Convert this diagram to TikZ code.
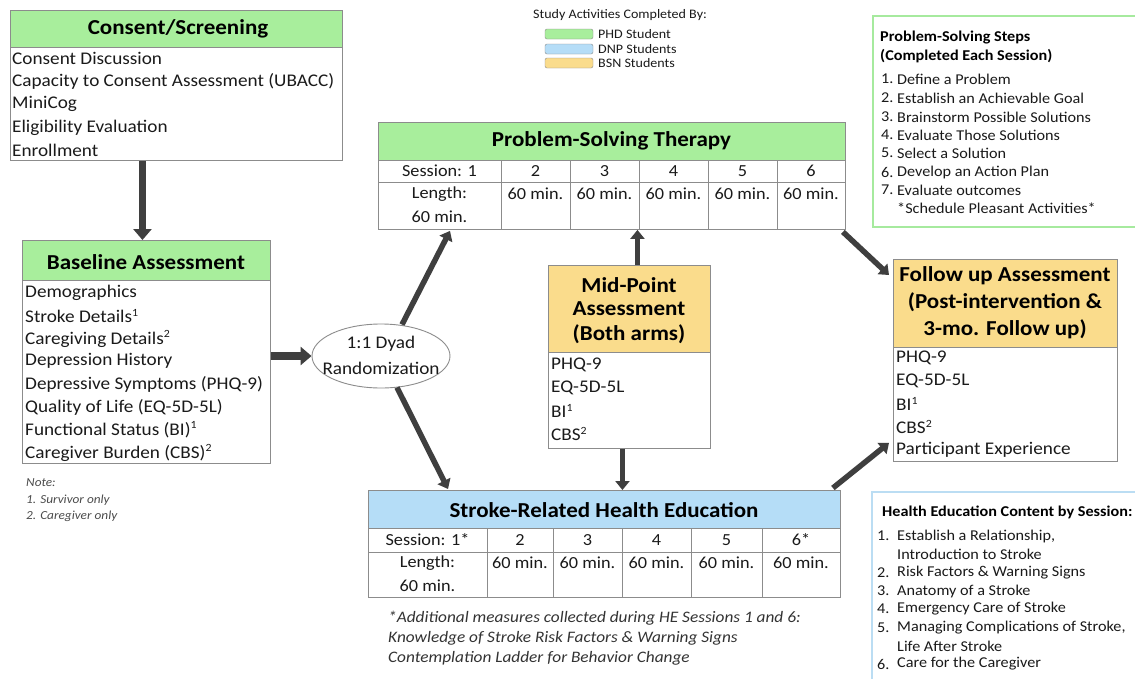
\documentclass[tikz,border=0pt]{standalone}
\usepackage{fontspec}
\setmainfont[FakeStretch=1.08]{Carlito}
\usetikzlibrary{arrows.meta,calc,shapes.geometric}
\definecolor{hgreen}{HTML}{A8EE9C}
\definecolor{hblue}{HTML}{B5DDF7}
\definecolor{hyellow}{HTML}{FADC8C}
\definecolor{bgrey}{HTML}{8C8C8C}
\definecolor{agrey}{HTML}{3F3F3F}
\definecolor{lgreen}{HTML}{A6EA9E}
\definecolor{lblue}{HTML}{BBDDF3}
\definecolor{tgrey}{HTML}{1A1A1A}
\newcommand\supr[1]{\raisebox{0.38em}{\fontsize{11}{12}\selectfont #1}}
\tikzset{
  box/.style={draw=bgrey, line width=0.9pt, anchor=north west, inner sep=0pt},
  hdr/.style={font=\fontsize{21.3}{25}\selectfont\bfseries, text=black},
  itm/.style={anchor=west, inner sep=0pt, font=\fontsize{17.8}{21}\selectfont, text=tgrey},
  cel/.style={inner sep=0pt, font=\fontsize{16.9}{20}\selectfont, text=tgrey},
  sml/.style={anchor=west, inner sep=0pt, font=\fontsize{15}{17}\selectfont, text=tgrey},
  smb/.style={anchor=west, inner sep=0pt, font=\fontsize{15}{17}\selectfont\bfseries, text=black},
  lgd/.style={anchor=west, inner sep=0pt, font=\fontsize{13}{15}\selectfont, text=tgrey},
  nte/.style={anchor=west, inner sep=0pt, font=\fontsize{12.3}{14}\selectfont\itshape, text=black!70},
  fnt/.style={anchor=west, inner sep=0pt, font=\fontsize{16}{19}\selectfont\itshape, text=black!80},
  arr/.style={draw=agrey, line width=5.5pt, -{Triangle[width=14pt,length=9pt]}},
  barr/.style={draw=agrey, line width=7.5pt, -{Triangle[width=18pt,length=11pt]}},
}
\begin{document}
\begin{tikzpicture}[x=1pt,y=-1pt]
\useasboundingbox (0,0) rectangle (1135,678);
\fill[white] (0,0) rectangle (1135,678);

% ---------- Consent / Screening
\fill[hgreen] (10,10) rectangle (342,47);
\node[box, minimum width=332pt, minimum height=150pt] (cs) at (10,10) {};
\draw[bgrey, line width=0.9pt] (10,47) -- (342,47);
\node[hdr] (csh) at (178,29) {Consent/Screening};
\node[itm] (cs1) at (12,58) {Consent Discussion};
\node[itm] (cs2) at (12,81) {Capacity to Consent Assessment (UBACC)};
\node[itm] (cs3) at (12,104) {MiniCog};
\node[itm] (cs4) at (12,128) {Eligibility Evaluation};
\node[itm] (cs5) at (12,150) {Enrollment};

% ---------- Baseline Assessment
\fill[hgreen] (22,240) rectangle (270,280);
\node[box, minimum width=248pt, minimum height=223pt] (bl) at (22,240) {};
\draw[bgrey, line width=0.9pt] (22,280) -- (270,280);
\node[hdr] (blh) at (146,262) {Baseline Assessment};
\node[itm] (bl1) at (25,293) {Demographics};
\node[itm] (bl2) at (25,316) {Stroke Details\supr{1}};
\node[itm] (bl3) at (25,339) {Caregiving Details\supr{2}};
\node[itm] (bl4) at (25,361) {Depression History};
\node[itm] (bl5) at (25,384) {Depressive Symptoms (PHQ-9)};
\node[itm] (bl6) at (25,407) {Quality of Life (EQ-5D-5L)};
\node[itm] (bl7) at (25,430) {Functional Status (BI)\supr{1}};
\node[itm] (bl8) at (25,453) {Caregiver Burden (CBS)\supr{2}};

\node[nte] (n0) at (26,483) {Note:};
\node[nte] (n1) at (26,500) {1. Survivor only};
\node[nte] (n2) at (26,516) {2. Caregiver only};

% ---------- Randomization ellipse
\node[draw=bgrey, line width=0.9pt, ellipse, minimum width=138pt, minimum height=64pt, inner sep=0pt] (ell) at (381,356) {};
\node[itm, anchor=center] (el1) at (381,344) {1:1 Dyad};
\node[itm, anchor=center] (el2) at (381,368) {Randomization};

% ---------- Legend
\node[lgd] (lg) at (533,15) {Study Activities Completed By:};
\draw[bgrey, fill=hgreen, rounded corners=2pt] (545,29) rectangle (593,39);
\draw[bgrey, fill=hblue, rounded corners=2pt] (545,44) rectangle (593,54);
\draw[bgrey, fill=hyellow, rounded corners=2pt] (545,58) rectangle (593,68);
\node[lgd] (lg1) at (598,34) {PHD Student};
\node[lgd] (lg2) at (598,49) {DNP Students};
\node[lgd] (lg3) at (598,63) {BSN Students};

% ---------- Problem-Solving Therapy
\fill[hgreen] (378,122) rectangle (845,160);
\node[box, minimum width=467pt, minimum height=107pt] (pst) at (378,122) {};
\draw[bgrey, line width=0.9pt] (378,160) -- (845,160) (378,182) -- (845,182);
\foreach \x in {501,570,639,708,777} \draw[bgrey, line width=0.9pt] (\x,160) -- (\x,229);
\node[hdr] (psth) at (611.5,141) {Problem-Solving Therapy};
\node[cel] (p11) at (439.5,171) {Session: 1};
\node[cel] (p12) at (535.5,171) {2};
\node[cel] (p13) at (604.5,171) {3};
\node[cel] (p14) at (673.5,171) {4};
\node[cel] (p15) at (742.5,171) {5};
\node[cel] (p16) at (811,171) {6};
\node[cel] (p21) at (439.5,194) {Length:};
\node[cel] (p21b) at (439.5,217) {60 min.};
\node[cel] (p22) at (535.5,194) {60 min.};
\node[cel] (p23) at (604.5,194) {60 min.};
\node[cel] (p24) at (673.5,194) {60 min.};
\node[cel] (p25) at (742.5,194) {60 min.};
\node[cel] (p26) at (811,194) {60 min.};

% ---------- Mid-Point Assessment
\fill[hyellow] (548,265) rectangle (710,352);
\node[box, minimum width=162pt, minimum height=183pt] (mid) at (548,265) {};
\draw[bgrey, line width=0.9pt] (548,352) -- (710,352);
\node[hdr] (mh1) at (629,285) {Mid-Point};
\node[hdr] (mh2) at (629,309) {Assessment};
\node[hdr] (mh3) at (629,334) {(Both arms)};
\node[itm] (m1) at (551,365) {PHQ-9};
\node[itm] (m2) at (551,388) {EQ-5D-5L};
\node[itm] (m3) at (551,411) {BI\supr{1}};
\node[itm] (m4) at (551,434) {CBS\supr{2}};

% ---------- Follow up Assessment
\fill[hyellow] (893,259) rectangle (1117,347);
\node[box, minimum width=224pt, minimum height=202pt] (fu) at (893,259) {};
\draw[bgrey, line width=0.9pt] (893,347) -- (1117,347);
\node[hdr] (fh1) at (1005,276) {Follow up Assessment};
\node[hdr] (fh2) at (1005,302) {(Post-intervention \&};
\node[hdr] (fh3) at (1005,329) {3-mo. Follow up)};
\node[itm] (f1) at (896,358) {PHQ-9};
\node[itm] (f2) at (896,381) {EQ-5D-5L};
\node[itm] (f3) at (896,404) {BI\supr{1}};
\node[itm] (f4) at (896,427) {CBS\supr{2}};
\node[itm] (f5) at (896,450) {Participant Experience};

% ---------- Stroke-Related Health Education
\fill[hblue] (368,490) rectangle (840,528);
\node[box, minimum width=472pt, minimum height=107pt] (srhe) at (368,490) {};
\draw[bgrey, line width=0.9pt] (368,528) -- (840,528) (368,552) -- (840,552);
\foreach \x in {487,553,622,691,762} \draw[bgrey, line width=0.9pt] (\x,528) -- (\x,597);
\node[hdr] (sh) at (604,510) {Stroke-Related Health Education};
\node[cel] (s11) at (427.5,540) {Session: 1*};
\node[cel] (s12) at (520,540) {2};
\node[cel] (s13) at (587.5,540) {3};
\node[cel] (s14) at (656.5,540) {4};
\node[cel] (s15) at (726.5,540) {5};
\node[cel] (s16) at (801,540) {6*};
\node[cel] (s21) at (427.5,563) {Length:};
\node[cel] (s21b) at (427.5,586) {60 min.};
\node[cel] (s22) at (520,563) {60 min.};
\node[cel] (s23) at (587.5,563) {60 min.};
\node[cel] (s24) at (656.5,563) {60 min.};
\node[cel] (s25) at (726.5,563) {60 min.};
\node[cel] (s26) at (801,563) {60 min.};

\node[fnt] (fn1) at (388,618) {*Additional measures collected during HE Sessions 1 and 6:};
\node[fnt] (fn2) at (388,638) {Knowledge of Stroke Risk Factors \& Warning Signs};
\node[fnt] (fn3) at (388,658) {Contemplation Ladder for Behavior Change};

% ---------- Problem-Solving Steps box
\draw[lgreen, line width=2.5pt] (873,16) rectangle (1150,227);
\node[smb] (pt1) at (880,38) {Problem-Solving Steps};
\node[smb] (pt2) at (880,56) {(Completed Each Session)};
\foreach \n/\t/\y in {1/Define a Problem/79, 2/Establish an Achievable Goal/98, 3/Brainstorm Possible Solutions/117, 4/Evaluate Those Solutions/135, 5/Select a Solution/153, 6/Develop an Action Plan/172, 7/Evaluate outcomes/190}{
  \node[sml] (psn\n) at (881,\y) {\n.};
  \node[sml] (pst\n) at (897,\y) {\t};
}
\node[sml] (psx) at (897,208) {*Schedule Pleasant Activities*};

% ---------- Health Education Content box
\draw[lblue, line width=2.5pt] (872,492) rectangle (1150,700);
\node[smb] (ht) at (882,512) {Health Education Content by Session:};
\node[sml] (hn1) at (877,536) {1.};
\node[sml] (ht1) at (897,536) {Establish a Relationship,};
\node[sml] (ht1b) at (897,554) {Introduction to Stroke};
\node[sml] (hn2) at (877,573) {2.};
\node[sml] (ht2) at (897,573) {Risk Factors \& Warning Signs};
\node[sml] (hn3) at (877,591) {3.};
\node[sml] (ht3) at (897,591) {Anatomy of a Stroke};
\node[sml] (hn4) at (877,609) {4.};
\node[sml] (ht4) at (897,609) {Emergency Care of Stroke};
\node[sml] (hn5) at (877,628) {5.};
\node[sml] (ht5) at (897,628) {Managing Complications of Stroke,};
\node[sml] (ht5b) at (897,646) {Life After Stroke};
\node[sml] (hn6) at (877,664) {6.};
\node[sml] (ht6) at (897,664) {Care for the Caregiver};

% ---------- Arrows
\draw[barr] ([xshift=-4pt]bl.north |- cs.south) -- ([xshift=-4pt]bl.north);
\draw[barr] (ell.west -| bl.east) -- (ell.west);
\draw[arr] ($(ell.north)+(21,1)$) -- ($(pst.south west)+(72,1)$);
\draw[arr] ($(ell.south)+(16,-1)$) -- ($(srhe.north west)+(80,-1)$);
\draw[arr] ([xshift=8pt]mid.north) -- ([xshift=8pt]mid.north |- pst.south);
\draw[arr] ([xshift=-7pt]mid.south) -- ([xshift=-7pt]mid.south |- srhe.north);
\draw[arr] ($(pst.south east)+(-3,2)$) -- ($(fu.north west)+(-4,16)$);
\draw[arr] ($(srhe.north east)+(-8,-2)$) -- ($(fu.south west)+(-4,-19)$);
\end{tikzpicture}
\end{document}
